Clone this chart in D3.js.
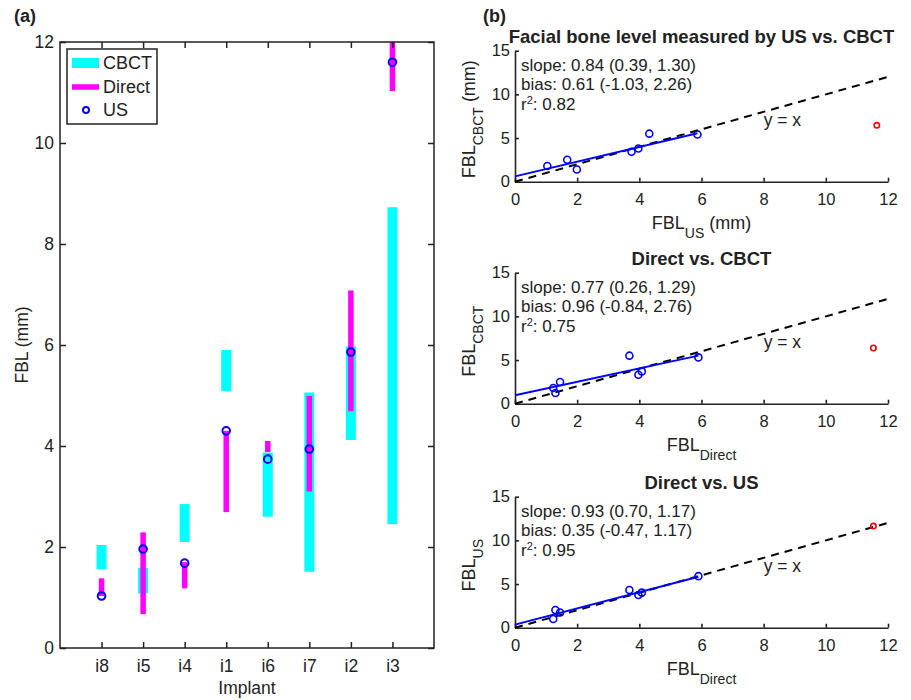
<!DOCTYPE html>
<html lang="en">
<head>
<meta charset="UTF-8">
<script src="https://d3js.org/d3.v7.min.js"></script>
<title>FBL comparison</title>
<style>
  body { margin: 0; background: #fff; }
  svg text { font-family: "Liberation Sans", Arial, sans-serif; fill: #222; }
</style>
</head>
<body>
<script>
// ---- panel (a) data ----
const implants = ["i8", "i5", "i4", "i1", "i6", "i7", "i2", "i3"];
const cbctLow = [1.56, 1.08, 2.10, 5.09, 2.60, 1.51, 4.12, 2.45];
const cbctHigh = [2.04, 1.59, 2.85, 5.90, 3.87, 5.06, 5.97, 8.73];
const directLow = [1.03, 0.67, 1.18, 2.69, 3.88, 3.10, 4.69, 11.03];
const directHigh = [1.38, 2.29, 1.70, 4.30, 4.10, 4.99, 7.08, 12.30];
const usFBL = [1.03, 1.96, 1.68, 4.30, 3.74, 3.94, 5.86, 11.60];
const yTicksA = [0, 2, 4, 6, 8, 10, 12];

// ---- panel (b) data ----
const titles = ["Facial bone level measured by US vs. CBCT", "Direct vs. CBCT", "Direct vs. US"];
const xSubs = ["US", "Direct", "Direct"];
const xSuffix = [" (mm)", "", ""];
const ySubs = ["CBCT", "CBCT", "US"];
const ySuffix = [" (mm)", "", ""];

const usVsCbctX = [1.04, 1.68, 1.99, 3.75, 3.97, 4.32, 5.87];
const usVsCbctY = [1.80, 2.52, 1.40, 3.42, 3.80, 5.50, 5.40];
const directVsCbctX = [1.23, 1.30, 1.45, 3.68, 3.97, 4.08, 5.90];
const directVsCbctY = [1.80, 1.23, 2.48, 5.50, 3.32, 3.70, 5.30];
const directVsUsX = [1.23, 1.30, 1.45, 3.68, 3.97, 4.08, 5.90];
const directVsUsY = [1.00, 2.02, 1.74, 4.32, 3.75, 4.02, 5.90];
const outlierX = [11.64, 11.53, 11.53];
const outlierY = [6.45, 6.38, 11.64];

const fitSlope = [0.84, 0.77, 0.93];
const fitBias = [0.61, 0.96, 0.35];
const fitXEnd = [5.87, 5.90, 5.90];
const slopeText = ["slope: 0.84 (0.39, 1.30)", "slope: 0.77 (0.26, 1.29)", "slope: 0.93 (0.70, 1.17)"];
const biasText = ["bias: 0.61 (-1.03, 2.26)", "bias: 0.96 (-0.84, 2.76)", "bias: 0.35 (-0.47, 1.17)"];
const r2Text = [": 0.82", ": 0.75", ": 0.95"];
const identity = [0, 12];
const xTicksB = [0, 2, 4, 6, 8, 10, 12];
const yTicksB = [0, 5, 10, 15];

const scatterX = [usVsCbctX, directVsCbctX, directVsUsX];
const scatterY = [usVsCbctY, directVsCbctY, directVsUsY];

const w = 911;
const h = 700;
const ink = "#222";

const svg = d3.select("body")
    .append("svg")
    .attr("width", w)
    .attr("height", h);

// ================= panel (a) =================
const A = { left: 60, right: 434, top: 42, bottom: 648 };

const xA = d3.scalePoint().domain(implants).range([A.left, A.right]).padding(1);
const yA = d3.scaleLinear().domain([0, 12]).range([A.bottom, A.top]);

svg.append("text")
    .attr("x", 14).attr("y", 22)
    .style("font-size", "18px").style("font-weight", "bold")
    .text("(a)");

const gA = svg.append("g");

svg.append("clipPath").attr("id", "clipA")
    .append("rect")
    .attr("x", A.left).attr("y", A.top)
    .attr("width", A.right - A.left).attr("height", A.bottom - A.top);

const marks = gA.append("g").attr("clip-path", "url(#clipA)");

// CBCT ranges
marks.selectAll(".cbct")
    .data(implants)
    .enter()
    .append("line")
    .attr("x1", d => xA(d)).attr("x2", d => xA(d))
    .attr("y1", (d, i) => yA(cbctLow[i]))
    .attr("y2", (d, i) => yA(cbctHigh[i]))
    .attr("stroke", "#00ffff")
    .attr("stroke-width", 10);

// Direct ranges
marks.selectAll(".direct")
    .data(implants)
    .enter()
    .append("line")
    .attr("x1", d => xA(d)).attr("x2", d => xA(d))
    .attr("y1", (d, i) => yA(directLow[i]))
    .attr("y2", (d, i) => yA(directHigh[i]))
    .attr("stroke", "#ff00ff")
    .attr("stroke-width", 5.5);

// US points
marks.selectAll(".us")
    .data(implants)
    .enter()
    .append("circle")
    .attr("cx", d => xA(d))
    .attr("cy", (d, i) => yA(usFBL[i]))
    .attr("r", 3.8)
    .attr("fill", "none")
    .attr("stroke", "#0000ff")
    .attr("stroke-width", 2);

// axes (ticks point inward, MATLAB style)
function styleAxis(sel, size) {
    sel.select(".domain").remove();
    sel.selectAll("line").attr("stroke", ink).attr("stroke-width", 1.5);
    sel.selectAll("text").style("font-size", size + "px").attr("fill", ink);
}

gA.append("g")
    .attr("transform", `translate(${A.left},0)`)
    .call(d3.axisLeft(yA).tickValues(yTicksA).tickSizeInner(-6).tickSizeOuter(0).tickPadding(6))
    .call(s => styleAxis(s, 17.5));

gA.append("g")
    .attr("transform", `translate(${A.right},0)`)
    .call(d3.axisRight(yA).tickValues(yTicksA).tickSizeInner(-6).tickSizeOuter(0).tickFormat(""))
    .call(s => styleAxis(s, 17.5));

gA.append("g")
    .attr("transform", `translate(0,${A.bottom})`)
    .call(d3.axisBottom(xA).tickSizeInner(-6).tickSizeOuter(0).tickPadding(12))
    .call(s => styleAxis(s, 17.5));

gA.append("g")
    .attr("transform", `translate(0,${A.top})`)
    .call(d3.axisTop(xA).tickSizeInner(-6).tickSizeOuter(0).tickFormat(""))
    .call(s => styleAxis(s, 17.5));

gA.append("rect")
    .attr("x", A.left).attr("y", A.top)
    .attr("width", A.right - A.left).attr("height", A.bottom - A.top)
    .attr("fill", "none")
    .attr("stroke", ink)
    .attr("stroke-width", 1.5);

gA.append("text")
    .attr("x", (A.left + A.right) / 2).attr("y", 694)
    .attr("text-anchor", "middle")
    .style("font-size", "17.5px")
    .text("Implant");

gA.append("text")
    .attr("transform", `translate(28,${(A.top + A.bottom) / 2}) rotate(-90)`)
    .attr("text-anchor", "middle")
    .style("font-size", "17.5px")
    .text("FBL (mm)");

// legend
const legend = gA.append("g").attr("id", "legend");
legend.append("rect")
    .attr("x", 67).attr("y", 49).attr("width", 90).attr("height", 75)
    .attr("fill", "#fff").attr("stroke", ink).attr("stroke-width", 1.5);
legend.append("line").attr("x1", 72).attr("x2", 99).attr("y1", 63).attr("y2", 63)
    .attr("stroke", "#00ffff").attr("stroke-width", 10);
legend.append("line").attr("x1", 72).attr("x2", 99).attr("y1", 87).attr("y2", 87)
    .attr("stroke", "#ff00ff").attr("stroke-width", 5.5);
legend.append("circle").attr("cx", 86).attr("cy", 110).attr("r", 3)
    .attr("fill", "none").attr("stroke", "#0000ff").attr("stroke-width", 2);
["CBCT", "Direct", "US"].forEach((t, i) => {
    legend.append("text")
        .attr("x", 103).attr("y", 63 + i * 23.5).attr("dy", "0.35em")
        .style("font-size", "18px")
        .text(t);
});

// ================= panel (b) =================
const bLeft = 515;
const bRight = 888;
const bTops = [50.7, 272.7, 496.7];
const bHeight = 131;

svg.append("text")
    .attr("x", 483).attr("y", 22)
    .style("font-size", "18px").style("font-weight", "bold")
    .text("(b)");

titles.forEach((title, i) => {
    const top = bTops[i];
    const bottom = top + bHeight;
    const x = d3.scaleLinear().domain([0, 12]).range([bLeft, bRight]);
    const y = d3.scaleLinear().domain([0, 15]).range([bottom, top]);
    const g = svg.append("g");

    const xAxis = g.append("g")
        .attr("transform", `translate(0,${bottom})`)
        .call(d3.axisBottom(x).tickValues(xTicksB).tickSizeInner(-4).tickSizeOuter(0).tickPadding(12));
    const yAxis = g.append("g")
        .attr("transform", `translate(${bLeft},0)`)
        .call(d3.axisLeft(y).tickValues(yTicksB).tickSizeInner(-4).tickSizeOuter(0).tickPadding(5));
    [xAxis, yAxis].forEach(a => {
        a.select(".domain").attr("stroke", ink).attr("stroke-width", 1.6);
        a.selectAll("line").attr("stroke", ink).attr("stroke-width", 1.6);
        a.selectAll("text").style("font-size", "16.5px").attr("fill", ink);
    });

    // title
    g.append("text")
        .attr("x", (bLeft + bRight) / 2).attr("y", top - 7.5)
        .attr("text-anchor", "middle")
        .style("font-size", "18.5px").style("font-weight", "bold")
        .text(title);

    // x label with subscript
    const xl = g.append("text")
        .attr("x", (bLeft + bRight) / 2).attr("y", bottom + 47)
        .attr("text-anchor", "middle")
        .style("font-size", "18px");
    xl.append("tspan").text("FBL");
    xl.append("tspan").attr("dy", 9).style("font-size", "14px").text(xSubs[i]);
    xl.append("tspan").attr("dy", -9).text(xSuffix[i]);

    // y label with subscript
    const yl = g.append("text")
        .attr("transform", `translate(475,${(top + bottom) / 2 + 3}) rotate(-90)`)
        .attr("text-anchor", "middle")
        .style("font-size", "18px");
    yl.append("tspan").text("FBL");
    yl.append("tspan").attr("dy", 8).style("font-size", "14px").text(ySubs[i]);
    yl.append("tspan").attr("dy", -8).text(ySuffix[i]);

    // identity line
    g.append("line")
        .attr("x1", x(identity[0])).attr("y1", y(identity[0]))
        .attr("x2", x(identity[1])).attr("y2", y(identity[1]))
        .attr("stroke", "#000")
        .attr("stroke-width", 2)
        .attr("stroke-dasharray", "8,6");

    // regression line
    g.append("line")
        .attr("x1", x(0)).attr("y1", y(fitBias[i]))
        .attr("x2", x(fitXEnd[i])).attr("y2", y(fitBias[i] + fitSlope[i] * fitXEnd[i]))
        .attr("stroke", "#0000ff")
        .attr("stroke-width", 2);

    // points
    g.selectAll(".pt")
        .data(scatterX[i])
        .enter()
        .append("circle")
        .attr("cx", d => x(d))
        .attr("cy", (d, j) => y(scatterY[i][j]))
        .attr("r", 3.5)
        .attr("fill", "none")
        .attr("stroke", "#0000ff")
        .attr("stroke-width", 1.6);

    g.append("circle")
        .attr("cx", x(outlierX[i]))
        .attr("cy", y(outlierY[i]))
        .attr("r", 2.7)
        .attr("fill", "none")
        .attr("stroke", "#ff0000")
        .attr("stroke-width", 1.6);

    // stats
    g.append("text")
        .attr("x", bLeft + 6).attr("y", top + 20)
        .style("font-size", "17px")
        .text(slopeText[i]);
    g.append("text")
        .attr("x", bLeft + 6).attr("y", top + 39.5)
        .style("font-size", "17px")
        .text(biasText[i]);
    const r2 = g.append("text")
        .attr("x", bLeft + 6).attr("y", top + 59)
        .style("font-size", "17px");
    r2.append("tspan").text("r");
    r2.append("tspan").attr("dy", -6).style("font-size", "11px").text("2");
    r2.append("tspan").attr("dy", 6).text(r2Text[i]);

    g.append("text")
        .attr("x", x(8)).attr("y", y(6.4))
        .style("font-size", "17.5px")
        .text("y = x");
});
</script>
</body>
</html>
